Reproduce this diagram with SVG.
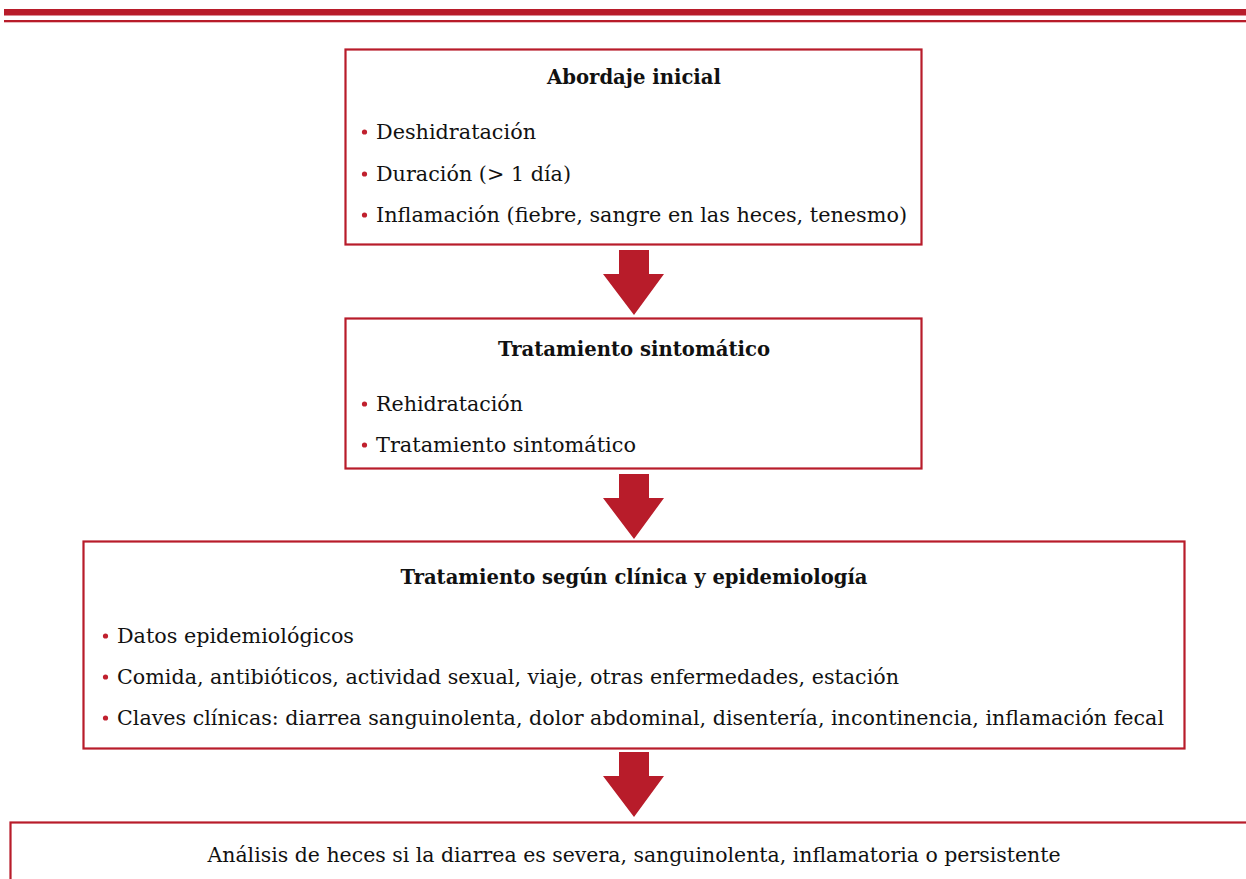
<svg xmlns="http://www.w3.org/2000/svg" width="1246" height="879" viewBox="0 0 1246 879">
  <style>
    .box { fill: #ffffff; stroke: #b81c2a; stroke-width: 2.2; }
    .arrow { fill: #b81c2a; }
    .t { font-family: "DejaVu Serif", "Liberation Serif", serif; font-size: 21px; fill: #111111; }
    .title { font-weight: bold; font-size: 20px; text-anchor: middle; }
    .c { text-anchor: middle; }
    .dot { fill: #c0202e; }
  </style>
  <rect width="1246" height="879" fill="#ffffff"/>
  <!-- header rules -->
  <rect x="4" y="9" width="1242" height="6.5" fill="#b81c2a"/>
  <rect x="4" y="20" width="1242" height="2.3" fill="#b81c2a"/>

  <g id="connectors">
    <polygon class="arrow" points="619,250 649,250 649,274 664,274 634,315 603,274 619,274"/>
    <polygon class="arrow" points="619,474 649,474 649,498 664,498 634,539 603,498 619,498"/>
    <polygon class="arrow" points="619,752 649,752 649,776 664,776 634,817 603,776 619,776"/>
  </g>

  <g id="abordaje">
    <rect class="box" x="345.5" y="49.5" width="576" height="195"/>
    <text class="t title" x="634" y="84" textLength="174" lengthAdjust="spacingAndGlyphs">Abordaje inicial</text>
    <circle class="dot" cx="364.5" cy="132" r="2.6"/>
    <text class="t" x="376" y="139" textLength="160" lengthAdjust="spacingAndGlyphs">Deshidratación</text>
    <circle class="dot" cx="364.5" cy="174" r="2.6"/>
    <text class="t" x="376" y="181" textLength="195" lengthAdjust="spacingAndGlyphs">Duración (&gt; 1 día)</text>
    <circle class="dot" cx="364.5" cy="215" r="2.6"/>
    <text class="t" x="376" y="222" textLength="531" lengthAdjust="spacingAndGlyphs">Inflamación (fiebre, sangre en las heces, tenesmo)</text>
  </g>

  <g id="sintomatico">
    <rect class="box" x="345.5" y="318.5" width="576" height="150"/>
    <text class="t title" x="634" y="356" textLength="272" lengthAdjust="spacingAndGlyphs">Tratamiento sintomático</text>
    <circle class="dot" cx="364.5" cy="404" r="2.6"/>
    <text class="t" x="376" y="411" textLength="147" lengthAdjust="spacingAndGlyphs">Rehidratación</text>
    <circle class="dot" cx="364.5" cy="445" r="2.6"/>
    <text class="t" x="376" y="452" textLength="260" lengthAdjust="spacingAndGlyphs">Tratamiento sintomático</text>
  </g>

  <g id="clinica">
    <rect class="box" x="83.5" y="541.5" width="1101" height="207"/>
    <text class="t title" x="634" y="584" textLength="467" lengthAdjust="spacingAndGlyphs">Tratamiento según clínica y epidemiología</text>
    <circle class="dot" cx="105.5" cy="636" r="2.6"/>
    <text class="t" x="117" y="643" textLength="237" lengthAdjust="spacingAndGlyphs">Datos epidemiológicos</text>
    <circle class="dot" cx="105.5" cy="677" r="2.6"/>
    <text class="t" x="117" y="684" textLength="782" lengthAdjust="spacingAndGlyphs">Comida, antibióticos, actividad sexual, viaje, otras enfermedades, estación</text>
    <circle class="dot" cx="105.5" cy="718" r="2.6"/>
    <text class="t" x="117" y="725" textLength="1047" lengthAdjust="spacingAndGlyphs">Claves clínicas: diarrea sanguinolenta, dolor abdominal, disentería, incontinencia, inflamación fecal</text>
  </g>

  <g id="analisis">
    <rect class="box" x="10.5" y="822.5" width="1250" height="80"/>
    <text class="t c" x="634" y="862" textLength="853" lengthAdjust="spacingAndGlyphs">Análisis de heces si la diarrea es severa, sanguinolenta, inflamatoria o persistente</text>
  </g>
</svg>
